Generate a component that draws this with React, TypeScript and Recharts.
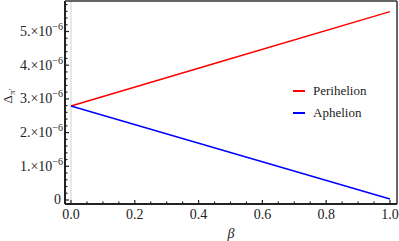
import { LineChart, Line, XAxis, YAxis, ReferenceLine } from 'recharts';

// beta values and the two curves (in units of 1e-6)
const beta = [0, 0.5, 1];
const perihelion = [2.79, 4.19, 5.59];
const aphelion = [2.79, 1.41, 0.03];

const xMajor = [0, 0.2, 0.4, 0.6, 0.8, 1];
const xTicks = [0, 0.05, 0.1, 0.15, 0.2, 0.25, 0.3, 0.35, 0.4, 0.45, 0.5, 0.55, 0.6, 0.65, 0.7, 0.75, 0.8, 0.85, 0.9, 0.95, 1];
const yMajor = [0, 1, 2, 3, 4, 5];
const yTicks = [0, 0.2, 0.4, 0.6, 0.8, 1, 1.2, 1.4, 1.6, 1.8, 2, 2.2, 2.4, 2.6, 2.8, 3, 3.2, 3.4, 3.6, 3.8, 4, 4.2, 4.4, 4.6, 4.8, 5, 5.2, 5.4, 5.6, 5.8];

const series = [
  { key: 'perihelion', name: 'Perihelion', color: '#ff0000' },
  { key: 'aphelion', name: 'Aphelion', color: '#0000ff' },
];

const data = beta.map((b, i) => ({ beta: b, perihelion: perihelion[i], aphelion: aphelion[i] }));

const X_DOMAIN: [number, number] = [-0.0188, 1.022];
const Y_DOMAIN: [number, number] = [-0.119, 5.905];
const FONT = '"Liberation Serif", "Times New Roman", serif';
const txt = { fontFamily: FONT };

const isMajor = (list: number[], v: number) => list.some((m) => Math.abs(m - v) < 1e-6);

const XTick = (props: any) => {
  const { x, y, payload } = props;
  const major = isMajor(xMajor, payload.value);
  return (
    <g>
      <line x1={x} x2={x} y1={y} y2={y - (major ? 4 : 2.5)} stroke="#222" strokeWidth={1.2} />
      {major && (
        <text x={x} y={y + 15} textAnchor="middle" fontSize={14} fontFamily={FONT} style={txt} fill="#222">
          {payload.value.toFixed(1)}
        </text>
      )}
    </g>
  );
};

const YTick = (props: any) => {
  const { x, y, payload } = props;
  const major = isMajor(yMajor, payload.value);
  return (
    <g>
      <line x1={x} x2={x + (major ? 4 : 2.5)} y1={y} y2={y} stroke="#222" strokeWidth={1.2} />
      {major && payload.value === 0 && (
        <text x={x - 4} y={y + 4.5} textAnchor="end" fontSize={14} fontFamily={FONT} style={txt} fill="#222">0</text>
      )}
      {major && payload.value !== 0 && (
        <text x={x - 2} y={y + 4.5} textAnchor="end" fontSize={14} fontFamily={FONT} style={txt} fill="#222">
          {`${payload.value}.×10`}
          <tspan dy={-6} fontSize={10}>−6</tspan>
        </text>
      )}
    </g>
  );
};

const YLabel = () => (
  <text transform="translate(12,96) rotate(-90)" textAnchor="middle" fontSize={13} fontFamily={FONT} style={txt} fill="#222">
    Δ<tspan fontSize={9} dy={3}>π′</tspan>
  </text>
);

const XLabel = (props: any) => {
  const { viewBox } = props;
  const cx = viewBox.x + viewBox.width / 2;
  return (
    <text x={cx} y={238} textAnchor="middle" fontSize={14} fontStyle="italic" fontFamily={FONT} style={txt} fill="#222">
      β
    </text>
  );
};

export default function App() {
  return (
    <div style={{ position: 'absolute', left: 0, top: 0, width: 399, height: 241, background: '#fff' }}>
      <LineChart width={399} height={241} data={data} margin={{ top: 1, right: 2, bottom: 0, left: 0 }}>
        <XAxis
          dataKey="beta"
          type="number"
          domain={X_DOMAIN}
          allowDataOverflow
          ticks={xTicks}
          interval={0}
          height={37}
          tickSize={0}
          tickMargin={0}
          tickLine={false}
          tick={<XTick />}
          axisLine={{ stroke: '#222', strokeWidth: 2 }}
          label={<XLabel />}
        />
        <YAxis
          type="number"
          domain={Y_DOMAIN}
          allowDataOverflow
          ticks={yTicks}
          interval={0}
          width={65}
          tickSize={0}
          tickMargin={0}
          tickLine={false}
          tick={<YTick />}
          axisLine={{ stroke: '#222', strokeWidth: 2 }}
          label={<YLabel />}
        />
        <ReferenceLine x={0} stroke="#d0d0d0" strokeWidth={1} />
        <ReferenceLine x={X_DOMAIN[1]} stroke="#333" strokeWidth={1.5} />
        <ReferenceLine y={Y_DOMAIN[1]} stroke="#333" strokeWidth={1.5} />
        {series.map((s) => (
          <Line key={s.key} dataKey={s.key} name={s.name} stroke={s.color} strokeWidth={1.5} dot={false} isAnimationActive={false} />
        ))}
      </LineChart>
      <div style={{ position: 'absolute', left: 293, top: 80, fontFamily: FONT, fontSize: 13, color: '#222', lineHeight: '22px' }}>
        {series.map((s) => (
          <div key={s.key} style={{ display: 'flex', alignItems: 'center' }}>
            <span style={{ display: 'inline-block', width: 12, height: 1.5, background: s.color, marginRight: 8 }} />
            {s.name}
          </div>
        ))}
      </div>
    </div>
  );
}
